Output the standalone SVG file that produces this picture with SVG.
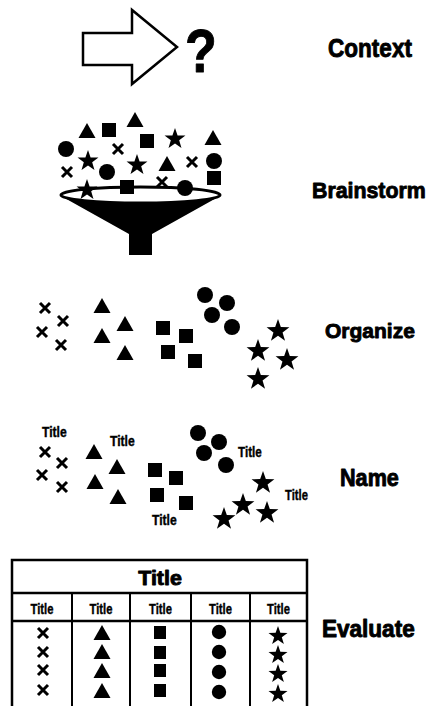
<svg xmlns="http://www.w3.org/2000/svg" xmlns:xlink="http://www.w3.org/1999/xlink" width="429" height="706" viewBox="0 0 429 706">
<style>
.lbl{font-family:"Liberation Sans",Arial,sans-serif;font-weight:bold;fill:#000;stroke:#000;stroke-width:0.9;stroke-linejoin:round}
.t{font-family:"Liberation Sans",Arial,sans-serif;font-weight:bold;fill:#000;stroke:#000;stroke-width:0.4}
.x{stroke:#000;stroke-width:3;stroke-linecap:butt;fill:none}
.tb{fill:none;stroke:#000;stroke-width:2.5}
</style>
<defs>
<g id="xx"><path class="x" d="M-5,-5L5,5M5,-5L-5,5"/></g>
<polygon id="tri" points="0,-8 8.5,7 -8.5,7" fill="#000"/>
<rect id="sq" x="-7" y="-7" width="14" height="14" fill="#000"/>
<circle id="ci" r="8" fill="#000"/>
<polygon id="st" fill="#000" points="0,-10 2.35,-3.24 9.51,-3.09 3.8,1.24 5.88,8.09 0,4 -5.88,8.09 -3.8,1.24 -9.51,-3.09 -2.35,-3.24"/>
</defs>
<rect width="429" height="706" fill="#fff"/>

<g id="context">
<polygon points="83,33 132,33 132,10 177,47 132,84 132,65 83,65" fill="#fff" stroke="#000" stroke-width="2.5" stroke-linejoin="miter"/>
<text class="lbl" transform="translate(185,72) scale(0.84,1)" font-size="62">?</text>
<text class="lbl" transform="translate(328,57) scale(0.868,1)" font-size="26">Context</text>
</g>

<g id="brainstorm">
<path d="M61,196 L129,234 L129,255 L152,255 L152,234 L220,196 Z" fill="#000"/>
<ellipse cx="140.5" cy="195" rx="79.5" ry="8" fill="#fff" stroke="#000" stroke-width="3"/>
<use xlink:href="#tri" transform="translate(87,131)"/>
<use xlink:href="#sq" transform="translate(109,130)"/>
<use xlink:href="#tri" transform="translate(135,120)"/>
<use xlink:href="#sq" transform="translate(147,141)"/>
<use xlink:href="#st" transform="translate(175,139) scale(1.1)"/>
<use xlink:href="#tri" transform="translate(213,138)"/>
<use xlink:href="#ci" transform="translate(66,149)"/>
<use xlink:href="#xx" transform="translate(118,149)"/>
<use xlink:href="#st" transform="translate(88,161) scale(1.1)"/>
<use xlink:href="#st" transform="translate(137,165) scale(1.1)"/>
<use xlink:href="#tri" transform="translate(167,164)"/>
<use xlink:href="#xx" transform="translate(192,162)"/>
<use xlink:href="#ci" transform="translate(214,161)"/>
<use xlink:href="#xx" transform="translate(67,172)"/>
<use xlink:href="#ci" transform="translate(107,172)"/>
<use xlink:href="#sq" transform="translate(214,178)"/>
<use xlink:href="#st" transform="translate(87,190) scale(1.1)"/>
<use xlink:href="#sq" transform="translate(127,187)"/>
<use xlink:href="#xx" transform="translate(162,182)"/>
<use xlink:href="#ci" transform="translate(185,188)"/>
<text class="lbl" transform="translate(312,198) scale(0.97,1)" font-size="22">Brainstorm</text>
</g>

<g id="organize">
<use xlink:href="#xx" transform="translate(45,308)"/>
<use xlink:href="#xx" transform="translate(63,321)"/>
<use xlink:href="#xx" transform="translate(42,332)"/>
<use xlink:href="#xx" transform="translate(61,345)"/>
<use xlink:href="#tri" transform="translate(102,306)"/>
<use xlink:href="#tri" transform="translate(125,324)"/>
<use xlink:href="#tri" transform="translate(102,336)"/>
<use xlink:href="#tri" transform="translate(125,353)"/>
<use xlink:href="#sq" transform="translate(163,328)"/>
<use xlink:href="#sq" transform="translate(186,336)"/>
<use xlink:href="#sq" transform="translate(168,352)"/>
<use xlink:href="#sq" transform="translate(195,361)"/>
<use xlink:href="#ci" transform="translate(205,295)"/>
<use xlink:href="#ci" transform="translate(227,303)"/>
<use xlink:href="#ci" transform="translate(212,315)"/>
<use xlink:href="#ci" transform="translate(232,327)"/>
<use xlink:href="#st" transform="translate(278,331) scale(1.2)"/>
<use xlink:href="#st" transform="translate(258,351) scale(1.2)"/>
<use xlink:href="#st" transform="translate(287,360) scale(1.2)"/>
<use xlink:href="#st" transform="translate(258,379) scale(1.2)"/>
<text class="lbl" transform="translate(325,338) scale(1,1)" font-size="21">Organize</text>
</g>

<g id="name">
<text class="t" transform="translate(42,437) scale(0.81,1)" font-size="15">Title</text>
<text class="t" transform="translate(110,446) scale(0.81,1)" font-size="15">Title</text>
<text class="t" transform="translate(238,457) scale(0.78,1)" font-size="15">Title</text>
<text class="t" transform="translate(285,500) scale(0.75,1)" font-size="15">Title</text>
<text class="t" transform="translate(152,525) scale(0.81,1)" font-size="15">Title</text>
<use xlink:href="#xx" transform="translate(45,452)"/>
<use xlink:href="#xx" transform="translate(62,463)"/>
<use xlink:href="#xx" transform="translate(42,475)"/>
<use xlink:href="#xx" transform="translate(62,487)"/>
<use xlink:href="#tri" transform="translate(94,452)"/>
<use xlink:href="#tri" transform="translate(117,467)"/>
<use xlink:href="#tri" transform="translate(95,482)"/>
<use xlink:href="#tri" transform="translate(118,497)"/>
<use xlink:href="#sq" transform="translate(155,470)"/>
<use xlink:href="#sq" transform="translate(176,478)"/>
<use xlink:href="#sq" transform="translate(157,495)"/>
<use xlink:href="#sq" transform="translate(186,503)"/>
<use xlink:href="#ci" transform="translate(198,433)"/>
<use xlink:href="#ci" transform="translate(219,442)"/>
<use xlink:href="#ci" transform="translate(204,453)"/>
<use xlink:href="#ci" transform="translate(226,465)"/>
<use xlink:href="#st" transform="translate(263,483) scale(1.2)"/>
<use xlink:href="#st" transform="translate(243,505) scale(1.2)"/>
<use xlink:href="#st" transform="translate(267,513) scale(1.2)"/>
<use xlink:href="#st" transform="translate(224,519) scale(1.2)"/>
<text class="lbl" transform="translate(340,486) scale(0.94,1)" font-size="23">Name</text>
</g>

<g id="evaluate">
<path class="tb" d="M12,706 L12,560 L307,560 L307,706 M12,593 L307,593 M12,621 L307,621"/>
<path d="M72,593 L72,706 M130,593 L130,706 M191,593 L191,706 M250,593 L250,706" stroke="#000" stroke-width="2" fill="none"/>
<text class="lbl" transform="translate(160,585) scale(1.07,1)" font-size="20" text-anchor="middle">Title</text>
<text class="t" transform="translate(42,614) scale(0.75,1)" font-size="15" text-anchor="middle">Title</text>
<text class="t" transform="translate(101,614) scale(0.75,1)" font-size="15" text-anchor="middle">Title</text>
<text class="t" transform="translate(160.5,614) scale(0.75,1)" font-size="15" text-anchor="middle">Title</text>
<text class="t" transform="translate(220.5,614) scale(0.75,1)" font-size="15" text-anchor="middle">Title</text>
<text class="t" transform="translate(278.5,614) scale(0.75,1)" font-size="15" text-anchor="middle">Title</text>
<use xlink:href="#xx" transform="translate(43,633)"/>
<use xlink:href="#xx" transform="translate(43,652)"/>
<use xlink:href="#xx" transform="translate(43,670)"/>
<use xlink:href="#xx" transform="translate(43,690)"/>
<use xlink:href="#tri" transform="translate(102,633)"/>
<use xlink:href="#tri" transform="translate(102,652)"/>
<use xlink:href="#tri" transform="translate(102,671)"/>
<use xlink:href="#tri" transform="translate(102,691)"/>
<rect x="154" y="626" width="12" height="13" fill="#000"/>
<rect x="154" y="646" width="12" height="13" fill="#000"/>
<rect x="154" y="664" width="12" height="13" fill="#000"/>
<rect x="154" y="684" width="12" height="13" fill="#000"/>
<use xlink:href="#ci" transform="translate(219,632) scale(0.9)"/>
<use xlink:href="#ci" transform="translate(219,652) scale(0.9)"/>
<use xlink:href="#ci" transform="translate(219,672) scale(0.9)"/>
<use xlink:href="#ci" transform="translate(219,692) scale(0.9)"/>
<use xlink:href="#st" transform="translate(278,636)"/>
<use xlink:href="#st" transform="translate(278,655)"/>
<use xlink:href="#st" transform="translate(278,674)"/>
<use xlink:href="#st" transform="translate(278,694)"/>
<text class="lbl" transform="translate(322,637) scale(0.98,1)" font-size="23">Evaluate</text>
</g>
</svg>
